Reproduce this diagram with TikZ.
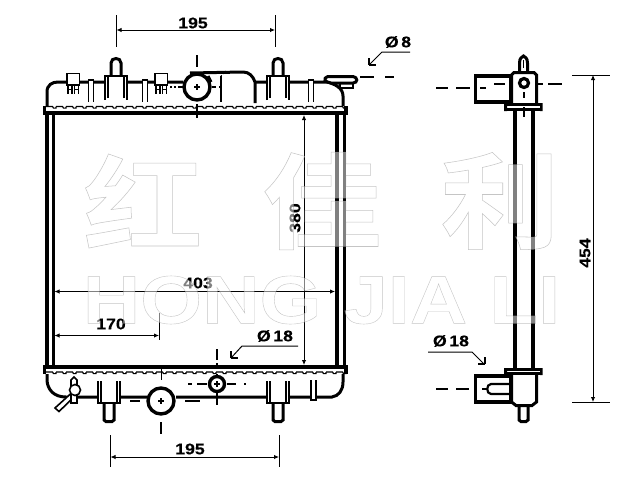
\documentclass[tikz,border=0pt]{standalone}
\usepackage{fontspec}
\usetikzlibrary{arrows.meta}
\setmainfont{Liberation Sans}
\newfontfamily\lblfont[FakeStretch=1.14,FakeBold=0.2]{Liberation Sans Bold}
\newfontfamily\wmlatin[FakeStretch=1.17,FakeBold=0.6]{Liberation Sans Bold}
\newfontfamily\wmcjk[FakeStretch=1.15,FakeBold=0.5]{Noto Sans CJK SC Bold}
\newcommand{\wmstroke}{\special{pdf:code 0.55 0.55 0.55 RG}}
\tikzset{
  tank line/.style={line width=3pt},
  fine line/.style={line width=1.6pt},
  dim line/.style={line width=0.9pt,{Latex[length=5pt,width=4.5pt]}-{Latex[length=5pt,width=4.5pt]}},
  ext line/.style={line width=0.9pt},
  lead line/.style={line width=1pt},
  mark line/.style={line width=2pt},
  dim label/.style={font=\lblfont\fontsize{15.5}{15.5}\selectfont,inner sep=0pt,text=black},
  wm latin/.style={inner sep=0pt,opacity=.5,text=white,font=\wmlatin\fontsize{68}{68}\selectfont},
  wm cjk/.style={inner sep=0pt,opacity=.5,text=white,font=\wmcjk\fontsize{104}{104}\selectfont},
}
\begin{document}
\begin{tikzpicture}[x=1pt,y=-1pt]
\useasboundingbox (0,0) rectangle (640,480);
\fill[white] (0,0) rectangle (640,480);

% ---- core
\draw[line width=4pt] (46.5,112) -- (46.5,368);
\draw[line width=3pt] (53,112) -- (53,368);
\draw[line width=4pt] (337,112) -- (337,368);
\draw[line width=3.4pt] (344.5,112) -- (344.5,368);

% ---- top header
\fill (43,105.5) rectangle (46,115);
\fill (344,105.5) rectangle (347.5,115);
\draw[line width=4.4pt] (43,113) -- (347.5,113);
\foreach \i in {0,...,29}{
  \draw[line width=1.2pt] ({46+\i*10},106.5) -- ++(6.5,0) -- ++(1,1.6) -- ++(2.5,0) -- ++(0,-1.6);
}
% ---- top tank outline
\draw[tank line] (47,106) -- (47,92) .. controls (47,85) and (52,82) .. (58,82) -- (183,82);
\draw[tank line] (211,82) -- (208,76) (190,73) -- (243,72) .. controls (249,72) and (253,76) .. (255,82) -- (255,103);
\draw[tank line] (255,82) -- (327,82) .. controls (335,84) and (343,88) .. (343,96) -- (343,106);
\draw[fine line] (221,76) -- (221,102);
\draw[line width=1pt,dotted] (221,76) -- (226,71);
% filler neck circle
\draw[line width=3.4pt,fill=white] (197,87) circle (13);
\draw[mark line] (197,55) -- (197,67);
\draw[line width=1.4pt] (197,84) -- (197,90) (194,87) -- (200,87);
\draw[mark line] (197,104) -- (197,118);
\draw[line width=1.2pt] (170,87) -- (172,87) (174,87) -- (176,87) (178,87) -- (183,87) (212,87) -- (216,87) (219,87) -- (221,87);
% pipes top
\foreach \c in {116,278}{
  \fill[white] (\c-11,75) rectangle (\c+11,103);
  \draw[line width=3pt,fill=white] (\c-5,76) -- (\c-5,63) .. controls (\c-5,57) and (\c+5,57) .. (\c+5,63) -- (\c+5,76);
  \draw[fine line] (\c-11,100) -- (\c-11,76) -- (\c+11,76) -- (\c+11,100);
  \draw[fine line] (\c-8,98) -- (\c-8,76) (\c+8,98) -- (\c+8,76);
}
% ribs top
\foreach \c in {91,145,311}{
  \fill[white] (\c-2,81) rectangle (\c+2,104);
  \draw[fine line] (\c-2.5,102) -- (\c-2.5,80) -- (\c+2.5,80) -- (\c+2.5,102);
}
% clips
\foreach \c in {67,155}{
  \draw[fine line,fill=white] (\c,73.5) rectangle (\c+12.5,85);
  \draw[line width=1.2pt] (\c+1,85) -- (\c+1,94) (\c+5,85) -- (\c+5,94) (\c+1,89.5) -- (\c+5,89.5);
  \draw[line width=1.2pt] (\c+7.5,85) -- (\c+7.5,94) (\c+11.5,85) -- (\c+11.5,94) (\c+7.5,89.5) -- (\c+11.5,89.5);
}
% overflow cap top right
\draw[line width=3pt,fill=white] (328,76.5) -- (353,76.5) .. controls (358,77) and (358,83) .. (353,83) -- (331,83) .. controls (325,82) and (322,79) .. (328,76.5) -- cycle;
\draw[fine line] (340,83) -- (340,88) -- (353,88) -- (353,83);

% ---- bottom header
\fill (43,366) rectangle (46,374);
\fill (344,366) rectangle (347.5,374);
\draw[line width=4.4pt] (43,367) -- (347.5,367);
\foreach \i in {0,...,29}{
  \draw[line width=1.2pt] ({46+\i*10},372) -- ++(6.5,0) -- ++(1,1.6) -- ++(2.5,0) -- ++(0,-1.6);
}
% ---- bottom tank outline
\draw[tank line] (47,374) -- (47,381) .. controls (48,390) and (54,397) .. (66,397) -- (147,397);
\draw[tank line] (176,397) -- (332,397) .. controls (339,396) and (343,390) .. (343,382) -- (343,374);
% bottom pipes
\foreach \c/\d in {109/11,278/11}{
  \fill[white] (\c-\d,379) rectangle (\c+\d,403);
  \draw[line width=3pt,fill=white] (\c-5,403) -- (\c-5,420) -- (\c-3,421.5) -- (\c+3,421.5) -- (\c+5,420) -- (\c+5,403);
  \draw[fine line] (\c-\d,381) -- (\c-\d,403) -- (\c+\d,403) -- (\c+\d,381);
  \draw[fine line] (\c-\d+3,381) -- (\c-\d+3,402) (\c+\d-3,381) -- (\c+\d-3,402);
}
\fill[white] (311,380) rectangle (316,399);
\draw[fine line] (311,380) -- (311,400) -- (316,400) -- (316,380);
% outlet circle
\draw[line width=3.4pt,fill=white] (161,401) circle (13);
\draw[line width=1.4pt] (161,398) -- (161,404) (158,401) -- (164,401);
\draw[line width=1pt] (161,368) -- (161,380);
\draw[mark line] (161,422) -- (161,434);
\draw[line width=1.6pt] (130,401) -- (140,401) (185,401) -- (200,401);
% small bottom circle
\draw[line width=3.4pt,fill=white] (217,384) circle (7.5);
\draw[line width=1.2pt] (214,384) -- (220,384) (217,381) -- (217,387);
\draw[line width=1.4pt] (188,384) -- (192,384) (197,384) -- (207,384) (227,384) -- (236,384) (244,384) -- (246,384);
\draw[line width=1.4pt] (217,374) -- (217,376) (217,392) -- (217,405);
\draw[mark line] (217,349) -- (217,360) (217,363) -- (217,366);
% drain valve
\draw[line width=1.6pt,fill=white] (71.5,393) -- (55,408) -- (59,411.5) -- (75,396);
\draw[line width=1.6pt,fill=white] (71,380) -- (74,377) -- (77,380) -- (77,403) -- (71,403) -- cycle;
\draw[line width=1.6pt,fill=white] (75,390) circle (5.5);

% ---- side view
\draw[line width=4pt] (514.5,110) -- (514.5,368) (533,110) -- (533,368);
% top head
\draw[line width=3pt,fill=white] (519.5,73) -- (519.5,63) .. controls (519.5,58) and (522,57) .. (523.5,56) .. controls (525,57) and (527.5,58) .. (527.5,63) -- (527.5,73);
\draw[line width=1.4pt] (523.5,60) -- (523.5,68);
\draw[line width=3pt,fill=white] (511.5,103) -- (511.5,75) -- (514,72.5) -- (534,72.5) -- (536.5,75) -- (536.5,103);
\draw[line width=3.2pt,fill=white] (475.5,76) rectangle (511,102);
\draw[line width=3pt] (505,104.5) -- (541,104.5);
\draw[line width=2.6pt] (505,109.5) -- (541,109.5);
\fill (504,103) rectangle (507,111) (540,103) rectangle (542.5,111);
\draw[line width=3.2pt,fill=white] (524,83) circle (4.5);
\draw[mark line] (524,92) -- (524,98) (524,107) -- (524,117);
\draw[mark line] (436,88) -- (448,88) (456,88) -- (470,88) (480,88) -- (486,88) (494,84) -- (505,84) (538,84) -- (543,84) (548,84) -- (562,84);
% bottom head
\draw[line width=3pt,fill=white] (519,405) -- (519,420) -- (521,421.5) -- (526,421.5) -- (528,420) -- (528,405);
\draw[line width=3pt,fill=white] (511.5,374) -- (511.5,402) -- (516,405.5) -- (532,405.5) -- (536.5,402) -- (536.5,374);
\draw[line width=3.2pt,fill=white] (475.5,376) rectangle (511,402);
\draw[line width=2.2pt] (510,384) -- (491,384) .. controls (486,384) and (486,394) .. (491,394) -- (510,394);
\draw[line width=1.6pt] (482,389) -- (487,389);
\draw[line width=3pt] (505,369) -- (541,369);
\draw[line width=2.6pt] (505,373.5) -- (541,373.5);
\fill (504,368) rectangle (507,375) (540,368) rectangle (542.5,375);
\draw[mark line] (436,389) -- (448,389) (456,389) -- (469,389);

% ---- dimensions
\draw[ext line] (116.5,15) -- (116.5,47) (275,15) -- (275,47);
\draw[dim line] (116.5,30) -- (275,30);
\node[dim label] (dimTop) at (193,23) {195};

\draw[ext line] (110.5,435) -- (110.5,467) (279,435) -- (279,467);
\draw[dim line] (110.5,457) -- (279,457);
\node[dim label] (dimBottom) at (190,449) {195};

\draw[dim line] (304,115) -- (304,365);
\node[dim label,rotate=90] (dimCore) at (295,218) {380};

\draw[dim line] (54.5,291.5) -- (335,291.5);
\node[dim label] (dimWidth) at (198,283) {403};

\draw[ext line] (159,313) -- (159,340);
\draw[dim line] (54.5,335.5) -- (159,335.5);
\node[dim label] (dimPart) at (111,324) {170};

\draw[ext line] (572,75) -- (610,75) (572,402) -- (610,402);
\draw[dim line] (593,75) -- (593,402);
\node[dim label,rotate=90] (dimTotal) at (585,253) {454};

% diameter callouts
\node[dim label] (phiEight) at (398,42) {Ø\,8};
\draw[lead line] (410,52) -- (382,52) -- (369,65);
\draw[line width=2pt] (369,65) -- (369,58) (369,65) -- (376,65);
\draw[mark line] (360,77) -- (374,77) (385,77) -- (394,77);

\node[dim label] (phiBottom) at (275,336) {Ø\,18};
\draw[lead line] (298,346) -- (242,346) -- (231,358);
\draw[line width=2pt] (231,358) -- (231,351) (231,358) -- (238,358);

\node[dim label] (phiSide) at (451,341) {Ø\,18};
\draw[lead line] (428,352) -- (472,352) -- (484,364);
\draw[line width=2pt] (484.5,364) -- (484.5,357) (484.5,364) -- (477.5,364);

% ---- watermark
\node[wm cjk] (wmHong) at (143,201) {\wmstroke 红};
\node[wm cjk] (wmJia) at (322,201) {\wmstroke 佳};
\node[wm cjk] (wmLi) at (500,201) {\wmstroke 利};
\node[wm latin] (wmName) at (321.5,300) {\wmstroke HONG JIA LI};
\end{tikzpicture}
\end{document}
